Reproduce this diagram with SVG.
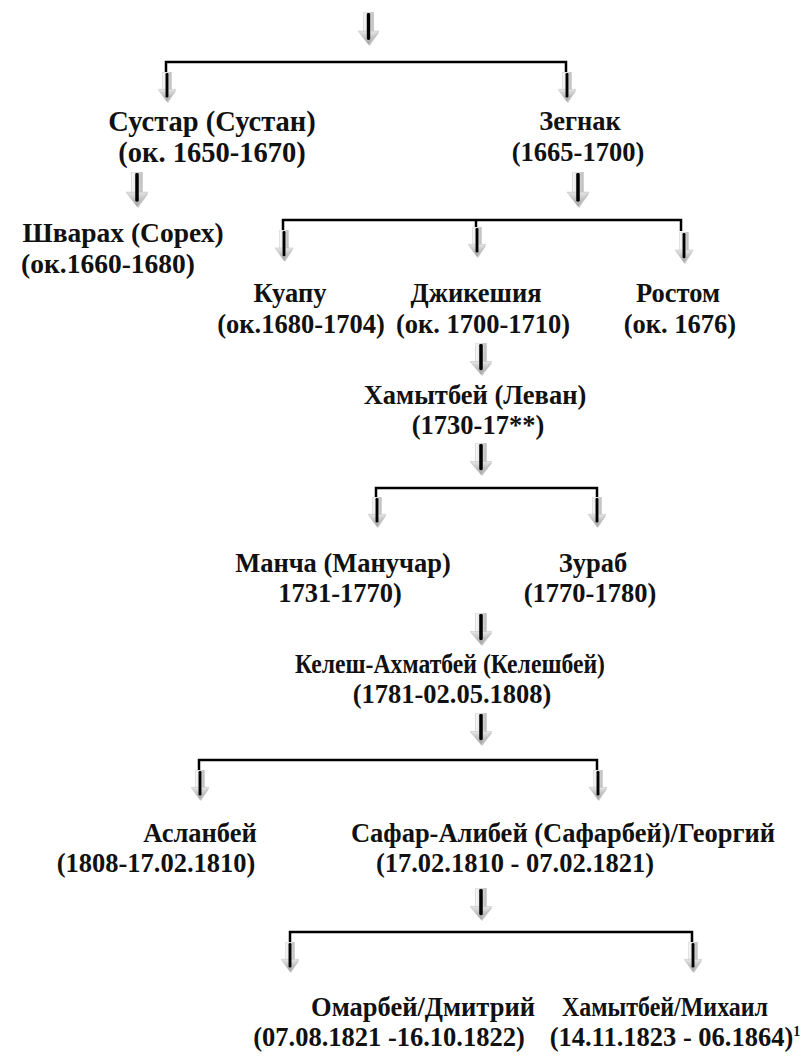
<svg xmlns="http://www.w3.org/2000/svg" width="803" height="1060" viewBox="0 0 803 1060">
<style>
  text { font-family: "Liberation Serif", "Times New Roman", serif; font-weight: bold; font-size: 26.5px; fill: #111; text-anchor: middle; }
  .big text { font-size: 28.5px; }
  .mid text { font-size: 27.5px; }
  .br { fill: none; stroke: #000; stroke-width: 2.5; }
  .sup { font-size: 14px; }
</style>
<defs>
  <linearGradient id="gShaft" x1="0" y1="0" x2="1" y2="0">
    <stop offset="0" stop-color="#fbfbfb"/>
    <stop offset="1" stop-color="#bdbdbd"/>
  </linearGradient>
  <linearGradient id="gHead" x1="0" y1="0" x2="0" y2="1">
    <stop offset="0" stop-color="#e6e6e6"/>
    <stop offset="1" stop-color="#a0a0a0"/>
  </linearGradient>
  <symbol id="arr" viewBox="0 0 20 34" preserveAspectRatio="none">
    <polygon points="1.5,20.5 20,20.5 11,34" fill="#c8c8c8"/>
    <rect x="5" y="0" width="10" height="21" fill="url(#gShaft)" stroke="#cccccc" stroke-width="0.6"/>
    <polygon points="0,19 20,19 10,32.5" fill="url(#gHead)" stroke="#bcbcbc" stroke-width="0.5"/>
    <rect x="8.4" y="1" width="3.2" height="27" rx="1.4" fill="#000"/>
  </symbol>
</defs>
<g id="connectors">
  <use href="#arr" x="358" y="12" width="21" height="34"/>
  <path class="br" d="M166,73 V62 H566 V73"/>
  <use href="#arr" x="158" y="72" width="18" height="31"/>
  <use href="#arr" x="558" y="72" width="18" height="31"/>
  <use href="#arr" x="126" y="172" width="22" height="36"/>
  <use href="#arr" x="567" y="172" width="22" height="36"/>
  <path class="br" d="M283,231 V220 H681 V231 M476,220 V229"/>
  <use href="#arr" x="275" y="230" width="18" height="32"/>
  <use href="#arr" x="468" y="227" width="18" height="31"/>
  <use href="#arr" x="675" y="232" width="18" height="32"/>
  <use href="#arr" x="470" y="343" width="22" height="33"/>
  <use href="#arr" x="470" y="443" width="22" height="33"/>
  <path class="br" d="M376,499 V488 H597 V499"/>
  <use href="#arr" x="368" y="497" width="18" height="31"/>
  <use href="#arr" x="588" y="497" width="18" height="31"/>
  <use href="#arr" x="470" y="613" width="22" height="33"/>
  <use href="#arr" x="470" y="713" width="22" height="33"/>
  <path class="br" d="M199,771 V760 H597 V771"/>
  <use href="#arr" x="191" y="770" width="18" height="31"/>
  <use href="#arr" x="589" y="770" width="18" height="31"/>
  <use href="#arr" x="470" y="888" width="22" height="33"/>
  <path class="br" d="M290,943 V932 H692 V943"/>
  <use href="#arr" x="281" y="942" width="18" height="31"/>
  <use href="#arr" x="684" y="942" width="18" height="31"/>
</g>
<g id="sustar" class="big">
  <text x="212" y="131">Сустар (Сустан)</text>
  <text x="212" y="162">(ок. 1650-1670)</text>
</g>
<g id="zegnak">
  <text x="580" y="130">Зегнак</text>
  <text x="578" y="161">(1665-1700)</text>
</g>
<g id="shvarakh" class="mid">
  <text x="123" y="242">Шварах (Сорех)</text>
  <text x="108" y="273">(ок.1660-1680)</text>
</g>
<g id="kuapu">
  <text x="290" y="302">Куапу</text>
  <text x="301" y="333">(ок.1680-1704)</text>
</g>
<g id="dzhikeshiya">
  <text x="476" y="302">Джикешия</text>
  <text x="483" y="333">(ок. 1700-1710)</text>
</g>
<g id="rostom">
  <text x="678" y="302">Ростом</text>
  <text x="680" y="333">(ок. 1676)</text>
</g>
<g id="khamytbey1">
  <text x="475" y="404">Хамытбей (Леван)</text>
  <text x="478" y="434">(1730-17**)</text>
</g>
<g id="mancha">
  <text x="343" y="572">Манча (Манучар)</text>
  <text x="340" y="602">1731-1770)</text>
</g>
<g id="zurab">
  <text x="593" y="572">Зураб</text>
  <text x="590" y="602">(1770-1780)</text>
</g>
<g id="kelesh">
  <text x="450" y="673" textLength="310" lengthAdjust="spacingAndGlyphs">Келеш-Ахматбей (Келешбей)</text>
  <text x="452" y="703">(1781-02.05.1808)</text>
</g>
<g id="aslanbey">
  <text x="200" y="842">Асланбей</text>
  <text x="156" y="872">(1808-17.02.1810)</text>
</g>
<g id="safar">
  <text x="563" y="842">Сафар-Алибей (Сафарбей)/Георгий</text>
  <text x="515" y="872">(17.02.1810 - 07.02.1821)</text>
</g>
<g id="omarbey">
  <text x="423" y="1016">Омарбей/Дмитрий</text>
  <text x="389" y="1046">(07.08.1821 -16.10.1822)</text>
</g>
<g id="khamytbey2">
  <text x="665" y="1016" textLength="206" lengthAdjust="spacingAndGlyphs">Хамытбей/Михаил</text>
  <text x="675" y="1046">(14.11.1823 - 06.1864)<tspan class="sup" dy="-10">1</tspan></text>
</g>
</svg>
